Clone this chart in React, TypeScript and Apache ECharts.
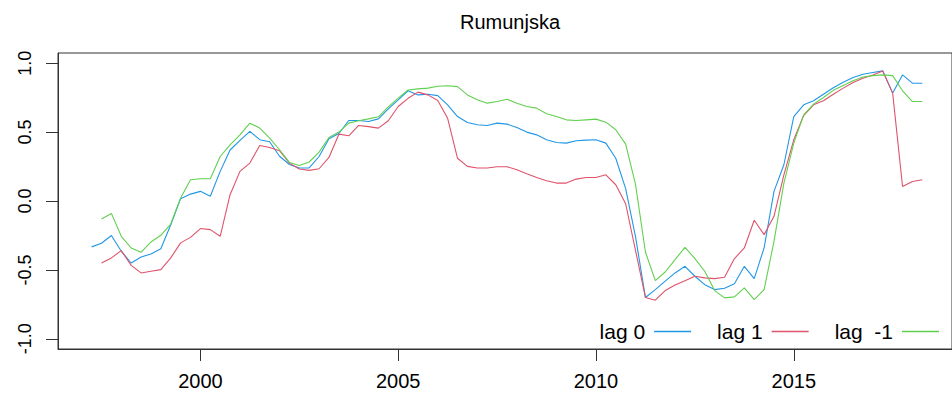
import React, { useEffect, useRef } from "react";
import * as echarts from "echarts";

// quarterly time index: 1997.25 + 0.25 * i
const startYear = 1997.25;
const quarterStep = 0.25;

const lag0: (number | null)[] = [
  -0.333, -0.307, -0.25, -0.365, -0.45, -0.406, -0.384, -0.346, -0.172, 0.017, 0.05, 0.07,
  0.035, 0.215, 0.37, 0.44, 0.505, 0.445, 0.43, 0.325, 0.265, 0.24, 0.24, 0.323,
  0.451, 0.49, 0.584, 0.584, 0.577, 0.596, 0.669, 0.734, 0.8, 0.77, 0.775, 0.765,
  0.698, 0.613, 0.57, 0.553, 0.548, 0.565, 0.558, 0.533, 0.5, 0.48, 0.444, 0.425,
  0.42, 0.437, 0.442, 0.444, 0.42, 0.31, 0.09, -0.26, -0.7, -0.643, -0.582, -0.522,
  -0.474, -0.546, -0.607, -0.643, -0.633, -0.6, -0.474, -0.563, -0.34, 0.07, 0.263, 0.613,
  0.698, 0.727, 0.775, 0.822, 0.862, 0.896, 0.92, 0.932, 0.944, 0.783, 0.915, 0.855, 0.855,
];

const lag1: (number | null)[] = [
  null, -0.45, -0.413, -0.36, -0.467, -0.522, -0.51, -0.498, -0.413, -0.304, -0.264, -0.2,
  -0.208, -0.256, 0.046, 0.215, 0.275, 0.403, 0.388, 0.365, 0.275, 0.232, 0.222, 0.234,
  0.316, 0.485, 0.473, 0.548, 0.54, 0.529, 0.582, 0.686, 0.745, 0.79, 0.77, 0.73,
  0.6, 0.31, 0.251, 0.239, 0.239, 0.249, 0.249, 0.227, 0.198, 0.171, 0.147, 0.13,
  0.13, 0.159, 0.171, 0.171, 0.19, 0.118, -0.02, -0.36, -0.7, -0.72, -0.65, -0.61,
  -0.578, -0.546, -0.558, -0.563, -0.553, -0.418, -0.341, -0.14, -0.244, -0.111, 0.19, 0.444,
  0.62, 0.698, 0.727, 0.775, 0.819, 0.86, 0.891, 0.915, 0.944, 0.783, 0.105, 0.142, 0.154,
];

const lagMinus1: (number | null)[] = [
  null, -0.131, -0.09, -0.256, -0.341, -0.372, -0.297, -0.249, -0.167, 0.022, 0.154, 0.162,
  0.162, 0.323, 0.408, 0.48, 0.565, 0.529, 0.457, 0.372, 0.28, 0.258, 0.283, 0.355,
  0.461, 0.5, 0.565, 0.582, 0.596, 0.611, 0.683, 0.746, 0.806, 0.814, 0.819, 0.833,
  0.836, 0.83, 0.77, 0.734, 0.71, 0.722, 0.739, 0.71, 0.686, 0.674, 0.633, 0.613,
  0.589, 0.584, 0.589, 0.594, 0.572, 0.517, 0.413, 0.12, -0.37, -0.578, -0.515, -0.425,
  -0.336, -0.418, -0.51, -0.65, -0.703, -0.696, -0.63, -0.715, -0.643, -0.293, 0.13, 0.42,
  0.625, 0.703, 0.751, 0.803, 0.838, 0.872, 0.9, 0.91, 0.915, 0.91, 0.8, 0.722, 0.722,
];

const seriesNames = ["lag 0", "lag 1", "lag  -1"];
const seriesColors = ["#2297E6", "#DF536B", "#61D04F"];
const xTicks = [2000, 2005, 2010, 2015];
const yTicks = [-1, -0.5, 0, 0.5, 1];
const title = "Rumunjska";

const FONT = "Liberation Sans, Arial, sans-serif";

function toPairs(vals: (number | null)[]) {
  const out: [number, number][] = [];
  vals.forEach((v, i) => {
    if (v !== null) out.push([startYear + i * quarterStep, v]);
  });
  return out;
}

export default function App() {
  const ref = useRef<HTMLDivElement>(null);
  useEffect(() => {
    if (!ref.current) return;
    const chart = echarts.init(ref.current, null, { renderer: "svg" });
    const all = [lag0, lag1, lagMinus1];
    chart.setOption({
      animation: false,
      backgroundColor: "#ffffff",
      title: {
        text: title,
        left: 505,
        top: 7,
        textAlign: "center",
        textStyle: { fontFamily: FONT, fontSize: 20, fontWeight: "normal", color: "#000" },
      },
      legend: {
        data: seriesNames,
        align: "right",
        icon: "rect",
        right: 8,
        top: 316,
        itemWidth: 37,
        itemHeight: 1.5,
        itemGap: 26,
        textStyle: { fontFamily: FONT, fontSize: 21, color: "#000", padding: [0, 4, 0, 0] },
      },
      grid: {
        left: 58,
        top: 53,
        right: -5,
        bottom: 54,
        show: true,
        borderColor: "#333",
        borderWidth: 1,
        backgroundColor: "transparent",
      },
      xAxis: {
        type: "value",
        min: 1996.4,
        max: 2019.0,
        splitLine: { show: false },
        axisLine: { show: true, onZero: false, lineStyle: { color: "#333", width: 1 } },
        axisTick: { show: true, length: 12, customValues: xTicks, lineStyle: { color: "#333" } },
        axisLabel: {
          customValues: xTicks,
          margin: 22,
          fontFamily: FONT,
          fontSize: 20,
          color: "#000",
          formatter: (v: number) => String(v),
        },
      },
      yAxis: {
        type: "value",
        min: -1.074,
        max: 1.074,
        splitLine: { show: false },
        axisLine: { show: true, onZero: false, lineStyle: { color: "#333", width: 1 } },
        axisTick: { show: true, length: 12, customValues: yTicks, lineStyle: { color: "#333" } },
        axisLabel: {
          customValues: yTicks,
          rotate: 90,
          margin: 24,
          fontFamily: FONT,
          fontSize: 18,
          color: "#000",
          formatter: (v: number) => v.toFixed(1),
        },
      },
      series: all.map((vals, i) => ({
        name: seriesNames[i],
        type: "line",
        data: toPairs(vals),
        symbol: "none",
        color: seriesColors[i],
        lineStyle: { width: 1.1, color: seriesColors[i] },
      })),
    });
    return () => chart.dispose();
  }, []);
  return (
    <div
      ref={ref}
      style={{ position: "fixed", left: 0, top: 0, width: 952, height: 403 }}
    />
  );
}
